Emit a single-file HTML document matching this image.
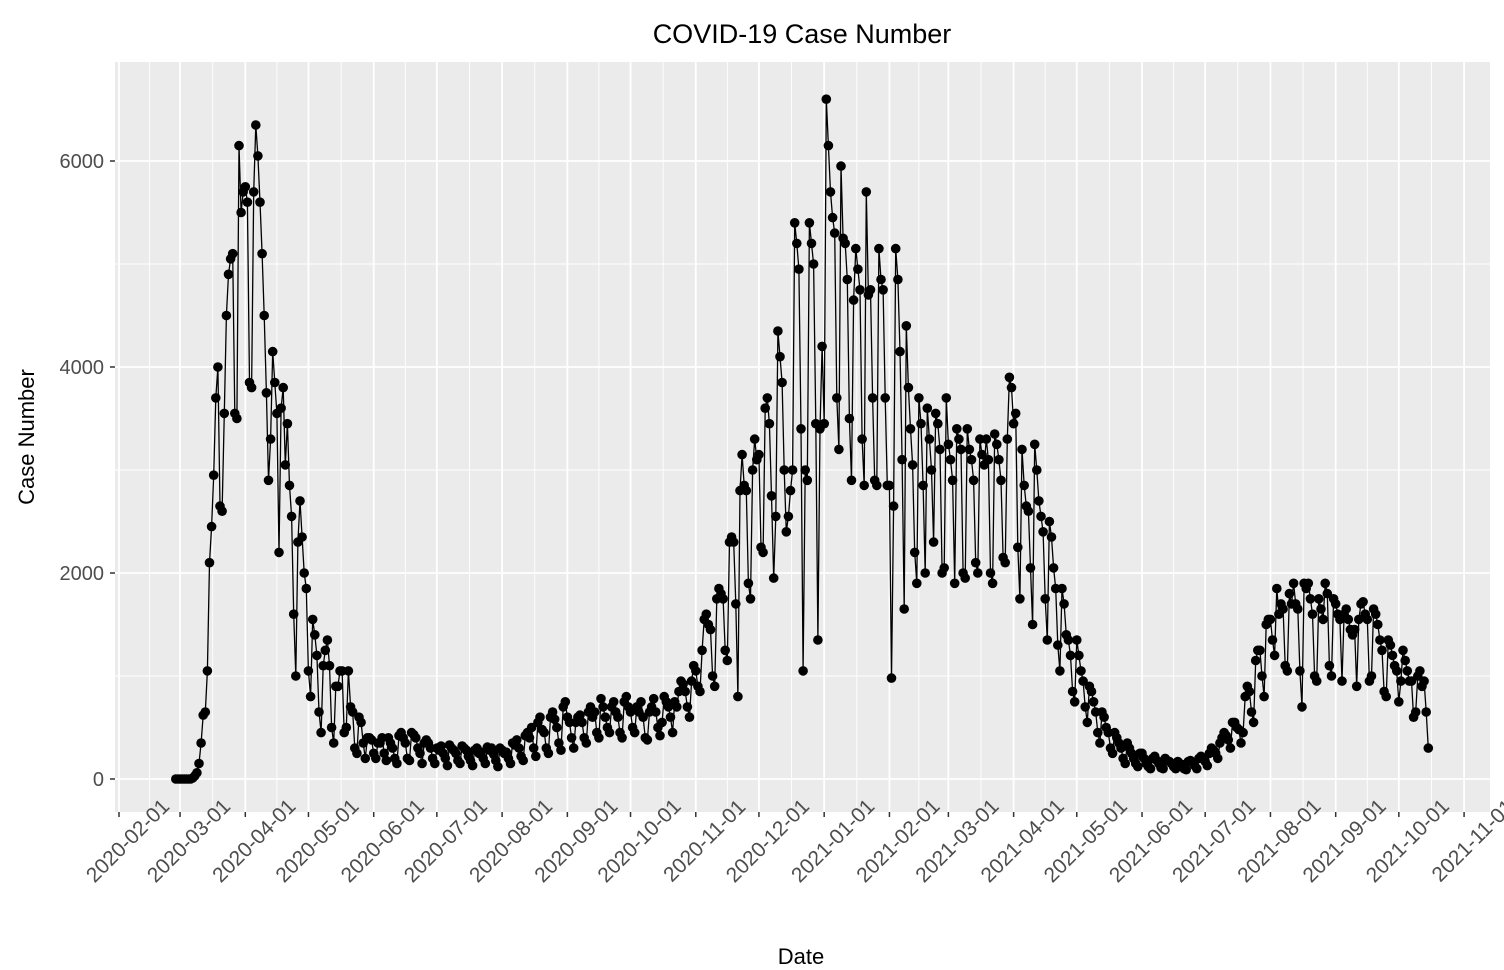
<!DOCTYPE html>
<html><head><meta charset="utf-8"><style>
html,body{margin:0;padding:0;background:#fff;}
svg{display:block;font-family:"Liberation Sans",Arial,sans-serif;}
</style></head><body>
<svg id="chart" width="1504" height="970" viewBox="0 0 1504 970">
<rect x="0" y="0" width="1504" height="970" fill="#fff"/>
<rect x="115" y="62" width="1375" height="750" fill="#ebebeb"/>
<g id="grid"></g><g id="series"></g><g id="axes"></g>
<text x="802" y="43" font-size="27" text-anchor="middle" fill="#000">COVID-19 Case Number</text>
<text x="801" y="964" font-size="22" text-anchor="middle" fill="#000">Date</text>
<text x="0" y="0" font-size="22" text-anchor="middle" fill="#000" transform="translate(34,437) rotate(-90)">Case Number</text>
</svg>
<script>
const startDate = "2020-02-28";
const cases = [
0,0,0,0,0,0,0,
0,10,30,60,150,350,620,
650,1050,2100,2450,2950,3700,4000,
2650,2600,3550,4500,4900,5050,5100,
3550,3500,6150,5500,5700,5750,5600,
3850,3800,5700,6350,6050,5600,5100,
4500,3750,2900,3300,4150,3850,3550,
2200,3600,3800,3050,3450,2850,2550,
1600,1000,2300,2700,2350,2000,1850,
1050,800,1550,1400,1200,650,450,
1100,1250,1350,1100,500,350,900,
900,1050,1050,450,500,1050,700,
650,300,250,600,550,350,200,
400,400,380,250,200,350,350,
400,250,180,400,350,300,200,
150,420,450,400,350,200,180,
450,430,400,300,250,150,350,
380,350,300,200,150,300,280,
320,250,200,130,330,300,280,
250,180,150,320,300,280,220,
180,130,280,300,250,260,200,
150,310,280,300,240,180,120,
300,280,250,260,200,150,350,
330,380,300,220,180,420,450,
400,500,300,220,550,600,480,
450,300,250,600,650,580,500,
350,280,700,750,600,550,400,
300,550,600,620,550,400,350,
650,700,600,650,450,400,780,
700,600,500,450,700,750,650,
600,450,400,750,800,700,650,
500,450,700,650,750,600,400,
380,650,700,780,650,500,420,
550,800,750,700,600,450,750,
700,850,950,920,850,700,600,
950,1100,1050,900,850,1250,1550,
1600,1500,1450,1000,900,1750,1850,
1800,1750,1250,1150,2300,2350,2300,
1700,800,2800,3150,2850,2800,1900,
1750,3000,3300,3100,3150,2250,2200,
3600,3700,3450,2750,1950,2550,4350,
4100,3850,3000,2400,2550,2800,3000,
5400,5200,4950,3400,1050,3000,2900,
5400,5200,5000,3450,1350,3400,4200,
3450,6600,6150,5700,5450,5300,3700,
3200,5950,5250,5200,4850,3500,2900,
4650,5150,4950,4750,3300,2850,5700,
4700,4750,3700,2900,2850,5150,4850,
4750,3700,2850,2850,980,2650,5150,
4850,4150,3100,1650,4400,3800,3400,
3050,2200,1900,3700,3450,2850,2000,
3600,3300,3000,2300,3550,3450,3200,
2000,2050,3700,3250,3100,2900,1900,
3400,3300,3200,2000,1950,3400,3200,
3100,2900,2100,2000,3300,3150,3050,
3300,3100,2000,1900,3350,3250,3100,
2900,2150,2100,3300,3900,3800,3450,
3550,2250,1750,3200,2850,2650,2600,
2050,1500,3250,3000,2700,2550,2400,
1750,1350,2500,2350,2050,1850,1300,
1050,1850,1700,1400,1350,1200,850,
750,1350,1200,1050,950,700,550,
900,850,750,650,450,350,650,
600,500,450,300,250,450,400,
350,300,200,150,350,300,250,
200,150,120,250,250,200,150,
120,100,200,220,180,150,110,
100,200,180,170,150,120,100,
170,150,140,100,90,170,180,
160,130,100,200,220,200,170,
130,250,300,280,250,200,350,
400,450,420,380,300,550,550,
500,480,350,450,800,900,850,
650,550,1150,1250,1250,1000,800,
1500,1550,1550,1350,1200,1850,1600,
1700,1650,1100,1050,1800,1700,1900,
1700,1650,1050,700,1900,1850,1900,
1750,1600,1000,950,1750,1650,1550,
1900,1800,1100,1000,1750,1700,1600,
1550,950,1600,1650,1550,1450,1400,
1450,900,1550,1700,1720,1600,1550,
950,1000,1650,1600,1500,1350,1250,
850,800,1350,1300,1200,1100,1050,
750,950,1250,1150,1050,950,950,
600,650,1000,1050,900,950,650,300
];
const yTicks = [0,2000,4000,6000];
const yMinor = [1000,3000,5000];
const xTickLabels = ["2020-02-01","2020-03-01","2020-04-01","2020-05-01","2020-06-01","2020-07-01","2020-08-01","2020-09-01","2020-10-01","2020-11-01","2020-12-01","2021-01-01","2021-02-01","2021-03-01","2021-04-01","2021-05-01","2021-06-01","2021-07-01","2021-08-01","2021-09-01","2021-10-01","2021-11-01"];

const NS="http://www.w3.org/2000/svg";
const origin=Date.UTC(2020,1,1);
function dayOf(s){const p=s.split("-");return (Date.UTC(+p[0],+p[1]-1,+p[2])-origin)/86400000;}
function xScale(day){return 119+day*2.105;}
function yScale(v){return 779-v*0.103;}
function mk(tag,attrs,parent){const e=document.createElementNS(NS,tag);for(const k in attrs)e.setAttribute(k,attrs[k]);parent.appendChild(e);return e;}
const grid=document.getElementById('grid'),series=document.getElementById('series'),axes=document.getElementById('axes');
yMinor.forEach(v=>{
const l=mk('line',{x1:115,x2:1490,y1:yScale(v),y2:yScale(v),stroke:'#fff','stroke-width':0.9},grid);


});
yTicks.forEach(v=>{
const y=yScale(v);
const l=mk('line',{x1:115,x2:1490,y1:y,y2:y,stroke:'#fff','stroke-width':1.8},grid);


const t=mk('line',{x1:110,x2:115,y1:y,y2:y,stroke:'#333','stroke-width':1.5},axes);


const tx=mk('text',{x:104,y:y+7,'font-size':20,'text-anchor':'end',fill:'#4d4d4d'},axes);
tx.textContent=v;


});
const xd=xTickLabels.map(dayOf);
for(let i=0;i<xd.length-1;i++){
const m=xScale((xd[i]+xd[i+1])/2);
const l=mk('line',{x1:m,x2:m,y1:62,y2:812,stroke:'#fff','stroke-width':0.9},grid);


}
xTickLabels.forEach((lab,i)=>{
const x=xScale(xd[i]);
const l=mk('line',{x1:x,x2:x,y1:62,y2:812,stroke:'#fff','stroke-width':1.8},grid);


const t=mk('line',{x1:x,x2:x,y1:812,y2:817,stroke:'#333','stroke-width':1.5},axes);


const tx=mk('text',{x:0,y:0,'font-size':21,'text-anchor':'middle','dominant-baseline':'central',fill:'#4d4d4d',transform:'translate('+(x+9)+',841) rotate(-45)'},axes);
tx.textContent=lab;


});
const d0=dayOf(startDate);
const pts=cases.map((v,i)=>[xScale(d0+i),yScale(v)]);
const path=mk('polyline',{points:pts.map(p=>p[0].toFixed(1)+','+p[1].toFixed(1)).join(' '),fill:'none',stroke:'#000','stroke-width':1.3},series);


pts.forEach(p=>{
const c=mk('circle',{cx:p[0].toFixed(1),cy:p[1].toFixed(1),r:4.8,fill:'#000'},series);


});
</script>
</body></html>
